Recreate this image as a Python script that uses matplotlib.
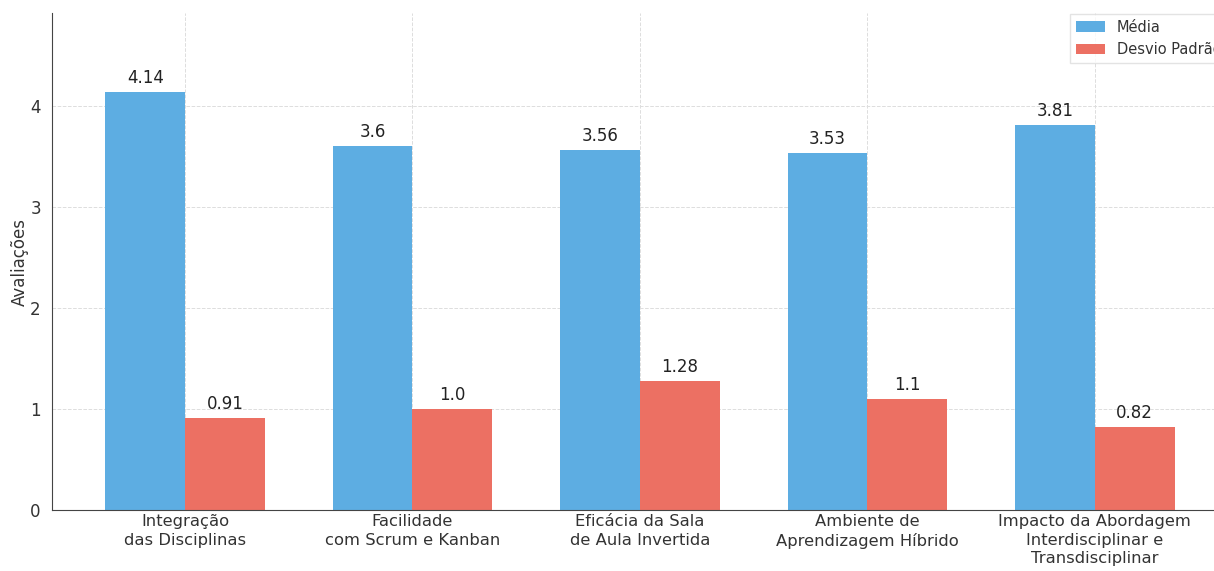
import numpy as np
import matplotlib.pyplot as plt

categorias = [
    "Integração\ndas Disciplinas",
    "Facilidade\ncom Scrum e Kanban",
    "Eficácia da Sala\nde Aula Invertida",
    "Ambiente de\nAprendizagem Híbrido",
    "Impacto da Abordagem\nInterdisciplinar e\nTransdisciplinar",
]
media = [4.14, 3.6, 3.56, 3.53, 3.81]
desvio = [0.91, 1.0, 1.28, 1.1, 0.82]

AZUL = "#5DADE2"
VERMELHO = "#EC7063"
TEXTO = "#333333"

plt.rcParams["font.family"] = "DejaVu Sans"
plt.rcParams["text.color"] = TEXTO
plt.rcParams["axes.labelcolor"] = TEXTO
plt.rcParams["xtick.color"] = TEXTO
plt.rcParams["ytick.color"] = TEXTO

fig = plt.figure(figsize=(12.14, 5.71), dpi=100)
ax = fig.add_axes([0.0428, 0.1068, 0.9687, 0.8704])

x = np.arange(len(categorias))
w = 0.35
b1 = ax.bar(x - w / 2, media, w, color=AZUL, label="Média", zorder=2)
b2 = ax.bar(x + w / 2, desvio, w, color=VERMELHO, label="Desvio Padrão", zorder=2)

# valor em cima de cada barra
for barras in (b1, b2):
    for b in barras:
        h = b.get_height()
        ax.text(b.get_x() + b.get_width() / 2, h + 0.05, f"{h}",
                ha="center", va="bottom", fontsize=12, color="#222222")

ax.set_xticks(x)
ax.set_xticklabels(categorias, fontsize=11.8, linespacing=1.3)
ax.set_ylabel("Avaliações", fontsize=12, labelpad=1)
ax.set_yticks([0, 1, 2, 3, 4])
ax.tick_params(axis="y", labelsize=12, length=0, pad=8)
ax.tick_params(axis="x", length=0, pad=3)
ax.set_ylim(0, 4.92)
ax.set_xlim(-0.585, 4.585)

ax.grid(True, linestyle="--", color="#dddddd", linewidth=0.7, zorder=0)
ax.set_axisbelow(True)
for s in ("top", "right"):
    ax.spines[s].set_visible(False)
for s in ("left", "bottom"):
    ax.spines[s].set_color("#444444")

ax.legend(loc="upper right", fontsize=10.5, borderaxespad=0.05, frameon=True,
          edgecolor="#dddddd", fancybox=False)

fig.savefig("out.png", dpi=100)
